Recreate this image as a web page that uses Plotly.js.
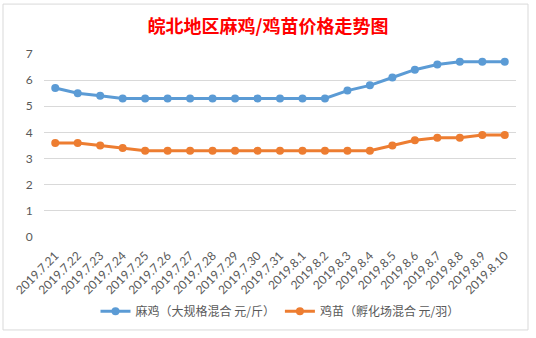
<!DOCTYPE html>
<html><head><meta charset="utf-8">
<script src="https://cdn.plot.ly/plotly-3.0.1.min.js"></script>
<style>html,body{margin:0;padding:0;background:#fff}#chart{width:536px;height:338px}</style>
</head><body><div id="chart"></div>
<script>
const dates = ["2019.7.21","2019.7.22","2019.7.23","2019.7.24","2019.7.25","2019.7.26","2019.7.27","2019.7.28","2019.7.29","2019.7.30","2019.7.31","2019.8.1","2019.8.2","2019.8.3","2019.8.4","2019.8.5","2019.8.6","2019.8.7","2019.8.8","2019.8.9","2019.8.10"];
const maji = [5.7,5.5,5.4,5.3,5.3,5.3,5.3,5.3,5.3,5.3,5.3,5.3,5.3,5.6,5.8,6.1,6.4,6.6,6.7,6.7,6.7];
const jimiao = [3.6,3.6,3.5,3.4,3.3,3.3,3.3,3.3,3.3,3.3,3.3,3.3,3.3,3.3,3.3,3.5,3.7,3.8,3.8,3.9,3.9];
const seriesNames = ["麻鸡（大规格混合 元/斤）","鸡苗（孵化场混合 元/羽）"];
const W=536,H=338,L=44,R=20,T=54,B=97;
const pw=W-L-R, ph=H-T-B;
function px(x){return (x-L)/pw;} function py(y){return (H-B-y)/ph;}
const traces=[
 {x:dates,y:maji,name:seriesNames[0],type:'scatter',mode:'lines+markers',line:{color:'#5B9BD5',width:3},marker:{color:'#5B9BD5',size:8}},
 {x:dates,y:jimiao,name:seriesNames[1],type:'scatter',mode:'lines+markers',line:{color:'#ED7D31',width:3},marker:{color:'#ED7D31',size:8}}
];
const layout={
 width:W,height:H,margin:{l:L,r:R,t:T,b:B},
 paper_bgcolor:'#fff',plot_bgcolor:'#fff',
 font:{family:'Lato, "Noto Sans CJK SC", sans-serif',color:'#595959',size:11},
 title:{text:'<b>皖北地区麻鸡/鸡苗价格走势图</b>',font:{family:'"Noto Sans CJK SC", sans-serif',size:18,color:'#FF0000'},x:0.5,xref:'container',xanchor:'center',y:1-27/H,yanchor:'middle'},
 xaxis:{type:'category',tickangle:-45,showgrid:false,zeroline:false,showline:false,ticks:'outside',ticklen:6,tickcolor:'rgba(0,0,0,0)',tickfont:{size:12,color:'#595959'},range:[-0.5,20.5],automargin:false},
 yaxis:{range:[0,7],dtick:1,showgrid:true,gridcolor:'#D9D9D9',gridwidth:1,zeroline:false,showline:false,ticks:'outside',ticklen:8,tickcolor:'rgba(0,0,0,0)',tickfont:{size:12,color:'#595959'},automargin:false},
 showlegend:true,
 legend:{orientation:'h',x:0.5,xanchor:'center',y:py(317),yanchor:'middle',font:{family:'"Noto Sans CJK SC", sans-serif',size:12,color:'#595959'},itemwidth:30},
 shapes:[{type:'rect',xref:'paper',yref:'paper',x0:px(3),x1:px(528),y0:py(336),y1:py(3),line:{color:'#D9D9D9',width:1},layer:'below'}]
};
Plotly.newPlot('chart',traces,layout,{displayModeBar:false,staticPlot:true});
</script></body></html>
